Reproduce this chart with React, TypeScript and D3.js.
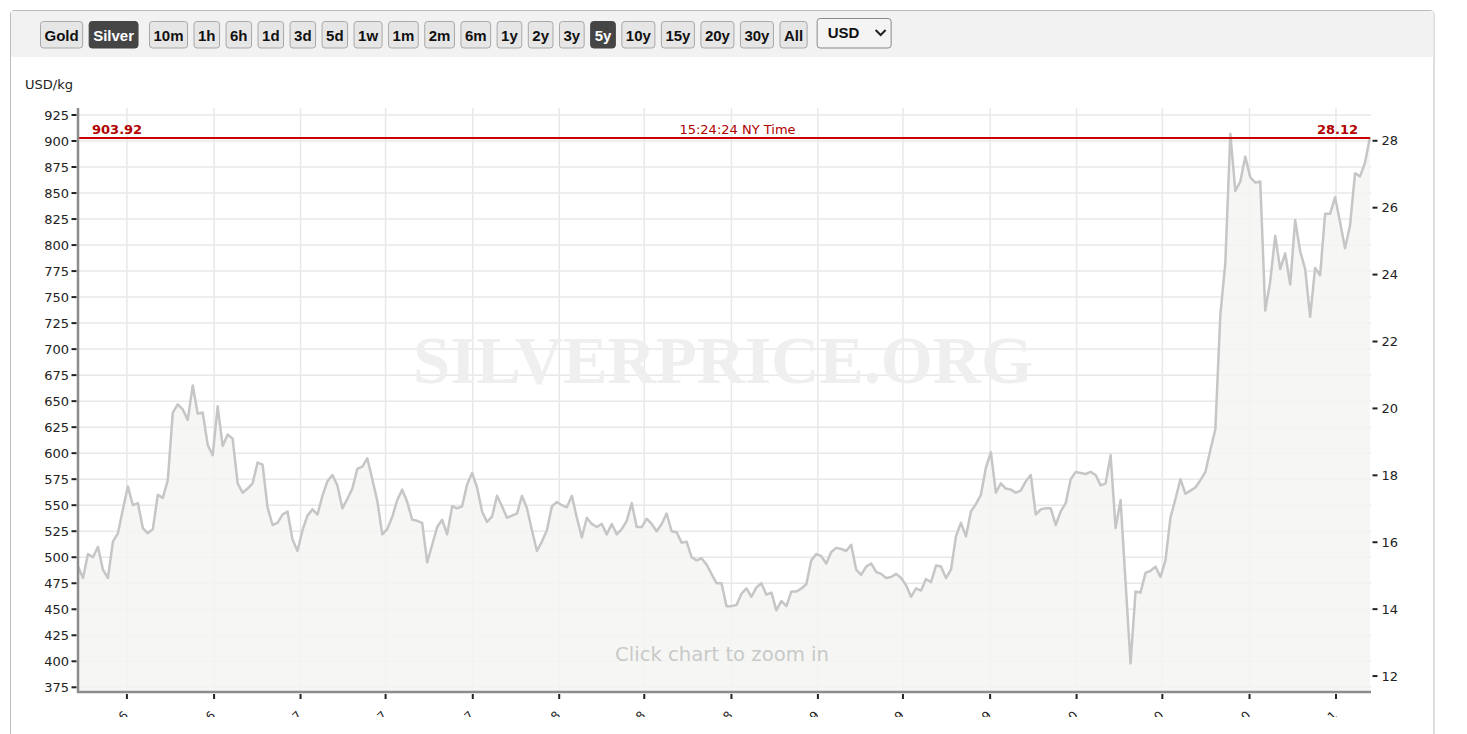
import React from "react";
import * as d3 from "d3";

// ---------- DATA ----------
const buttonLabels = ["Gold", "Silver", "10m", "1h", "6h", "1d", "3d", "5d", "1w", "1m", "2m", "6m", "1y", "2y", "3y", "5y", "10y", "15y", "20y", "30y", "All"];
const activeButtons = ["Silver", "5y"];
const currencyLabel = "USD";
const unitLabel = "USD/kg";

const leftTicks = [375, 400, 425, 450, 475, 500, 525, 550, 575, 600, 625, 650, 675, 700, 725, 750, 775, 800, 825, 850, 875, 900, 925];
const rightTicks = [12, 14, 16, 18, 20, 22, 24, 26, 28];
const xTickDates = ["2016-05-01", "2016-09-01", "2017-01-01", "2017-05-01", "2017-09-01", "2018-01-01", "2018-05-01", "2018-09-01", "2019-01-01", "2019-05-01", "2019-09-01", "2020-01-01", "2020-05-01", "2020-09-01", "2021-01-01"];

const firstDate = "2016-02-22";
const lastDate = "2021-02-18";

// Silver price, USD per kg, weekly-ish points
const silverUsdPerKg = [
  491, 480, 503, 500, 510, 488, 480, 515, 523, 546,
  568, 550, 552, 528, 523, 527, 560, 557, 574, 639,
  647, 642, 632, 665, 638, 639, 608, 598, 645, 607,
  618, 614, 571, 562, 566, 571, 591, 589, 548, 531,
  533, 541, 544, 517, 506, 526, 540, 546, 541, 559,
  573, 579, 569, 547, 556, 566, 585, 587, 595, 575,
  554, 522, 527, 539, 555, 565, 553, 536, 535, 533,
  495, 512, 529, 536, 522, 549, 547, 549, 570, 581,
  567, 544, 534, 539, 559, 549, 538, 540, 542, 559,
  547, 526, 506, 515, 526, 549, 553, 550, 548, 559,
  538, 519, 538, 532, 529, 532, 522, 532, 522, 527,
  535, 552, 529, 529, 537, 532, 525, 532, 542, 525,
  524, 514, 515, 500, 497, 499, 493, 484, 475, 475,
  453, 453, 454, 465, 470, 462, 471, 475, 464, 466,
  449, 458, 453, 467, 467, 470, 474, 497, 503, 501,
  494, 505, 509, 508, 506, 512, 488, 483, 491, 494,
  486, 484, 480, 481, 484, 480, 473, 462, 470, 468,
  479, 476, 492, 491, 480, 488, 520, 533, 520, 544,
  551, 560, 586, 601, 562, 571, 566, 565, 562, 564,
  573, 579, 541, 546, 547, 547, 531, 544, 552, 575,
  582, 581, 580, 582, 579, 569, 571, 598, 528, 555,
  476, 398, 467, 466, 485, 487, 491, 481, 497, 538,
  556, 575, 561, 564, 567, 574, 582, 603, 623, 733,
  783, 907, 852, 861, 885, 865, 860, 861, 737, 765,
  809, 777, 792, 762, 824, 794, 777, 731, 778, 771,
  830, 830, 846, 822, 797, 819, 869, 866, 879, 903.92,
];

const lastPriceKg = 903.92;
const lastPriceOz = 28.12;
const timeLabel = "15:24:24 NY Time";
const watermark = "SILVERPRICE.ORG";
const zoomHint = "Click chart to zoom in";
const OZ_PER_KG = 32.1507;

// ---------- LAYOUT ----------
const W = 1467;
const H = 734;
const plot = { left: 79, right: 1371, top: 108, bottom: 692 };
const FONT = "'DejaVu Sans', Verdana, sans-serif";
const BTN_FONT = "'Liberation Sans', Arial, sans-serif";

function measure(text: string, font: string): number {
  const c = document.createElement("canvas").getContext("2d");
  if (!c) return text.length * 9;
  c.font = font;
  return c.measureText(text).width;
}

type Pt = { date: Date; v: number };

export default function App() {
  const parse = d3.timeParse("%Y-%m-%d");
  const d0 = parse(firstDate) as Date;
  const d1 = parse(lastDate) as Date;
  const n = silverUsdPerKg.length;
  const idxToTime = d3.scaleLinear().domain([0, n - 1]).range([d0.getTime(), d1.getTime()]);
  const data: Pt[] = silverUsdPerKg.map((v, i) => ({ date: new Date(idxToTime(i)), v }));

  const x = d3.scaleTime().domain([d0, d1]).range([78, 1370]);
  const y = d3.scaleLinear().domain([375, 925]).range([687.3, 115]);

  const line = d3.line<Pt>().x((d) => x(d.date)).y((d) => y(d.v));
  const area = d3
    .area<Pt>()
    .x((d) => x(d.date))
    .y0(plot.bottom)
    .y1((d) => y(d.v));

  const xTicks = xTickDates.map((s) => parse(s) as Date);
  const fmt = d3.timeFormat("%b '%y");

  // buttons
  const btnFont = "bold 15px " + BTN_FONT;
  let bx = 40;
  const buttons = buttonLabels.map((label) => {
    const w = measure(label, btnFont) + 8;
    const b = { label, x: bx, w };
    bx += w + 6.5;
    if (label === "Silver") bx += 5;
    return b;
  });
  const selX = bx + 3.5;
  const selW = 74;

  const redY = y(lastPriceKg) + 1;

  return (
    <svg
      width={W}
      height={H}
      style={{ position: "absolute", left: 0, top: 0, display: "block", background: "#fff" }}
    >
      <defs>
        <clipPath id="labelClip">
          <rect x={0} y={0} width={W} height={717} />
        </clipPath>
      </defs>

      {/* outer container */}
      <path
        d={`M10.5,${H + 5} L10.5,14 Q10.5,10.5 14,10.5 L1430.5,10.5 Q1434,10.5 1434,14 L1434,${H + 5}`}
        fill="none"
        stroke="#bdbdbd"
        strokeWidth={1}
      />
      <rect x={11} y={11} width={1422.5} height={46} fill="#f2f2f2" />

      {/* toolbar */}
      {buttons.map((b) => {
        const active = activeButtons.includes(b.label);
        return (
          <g key={b.label}>
            <rect
              x={b.x + 0.5}
              y={21.5}
              width={b.w}
              height={26.5}
              rx={3}
              fill={active ? "#454545" : "#e6e6e6"}
              stroke={active ? "#454545" : "#a8a8a8"}
              strokeWidth={1}
            />
            <text
              x={b.x + 0.5 + b.w / 2}
              y={40.5}
              textAnchor="middle"
              fontFamily={BTN_FONT}
              fontWeight="bold"
              fontSize={15}
              fill={active ? "#ffffff" : "#111"}
            >
              {b.label}
            </text>
          </g>
        );
      })}
      <rect x={selX + 0.5} y={18.5} width={selW} height={29.5} rx={3} fill="#f4f4f4" stroke="#8a8a8a" strokeWidth={1} />
      <text x={selX + 11} y={38} fontFamily={BTN_FONT} fontWeight="bold" fontSize={15} fill="#111">
        {currencyLabel}
      </text>
      <path
        d={`M${selX + 59},${30} L${selX + 64},${35} L${selX + 69},${30}`}
        fill="none"
        stroke="#222"
        strokeWidth={2}
      />

      {/* unit label */}
      <text x={25} y={88.5} fontFamily={FONT} fontSize={13} fill="#222">
        {unitLabel}
      </text>

      {/* horizontal grid */}
      {leftTicks.map((t) => (
        <line key={"hg" + t} x1={plot.left} x2={plot.right} y1={y(t)} y2={y(t)} stroke="#e8e8e8" strokeWidth={1.5} />
      ))}
      {/* vertical grid */}
      {xTicks.map((t, i) => (
        <line key={"vg" + i} x1={x(t)} x2={x(t)} y1={plot.top} y2={plot.bottom} stroke="#e8e8e8" strokeWidth={1.5} />
      ))}

      {/* watermark */}
      <text
        x={723}
        y={383}
        textAnchor="middle"
        fontFamily="'Liberation Serif', 'Times New Roman', serif"
        fontWeight="bold"
        fontSize={68}
        textLength={620}
        lengthAdjust="spacingAndGlyphs"
        fill="#efefef"
      >
        {watermark}
      </text>

      {/* series */}
      <path d={area(data) || ""} fill="#f5f5f3" fillOpacity={0.85} />
      <path d={line(data) || ""} fill="none" stroke="#c6c6c6" strokeWidth={2.5} strokeLinejoin="round" />

      {/* zoom hint */}
      <text
        x={722}
        y={661}
        textAnchor="middle"
        fontFamily={FONT}
        fontSize={19.5}
        textLength={214}
        lengthAdjust="spacingAndGlyphs"
        fill="#c8cac8"
      >
        {zoomHint}
      </text>

      {/* current price line */}
      <line x1={plot.left} x2={1370} y1={redY} y2={redY} stroke="#cc0000" strokeWidth={2} />
      <text x={92} y={133.5} fontFamily={FONT} fontSize={13} fontWeight="bold" fill="#b00000">
        {lastPriceKg.toFixed(2)}
      </text>
      <text x={1358} y={133.5} textAnchor="end" fontFamily={FONT} fontSize={13} fontWeight="bold" fill="#b00000">
        {lastPriceOz.toFixed(2)}
      </text>
      <text x={737.5} y={133.5} textAnchor="middle" fontFamily={FONT} fontSize={13} fill="#b00000">
        {timeLabel}
      </text>

      {/* left axis */}
      <line x1={78} x2={78} y1={plot.top} y2={plot.bottom + 1} stroke="#8c8c8c" strokeWidth={2.5} />
      {leftTicks.map((t) => (
        <g key={"lt" + t}>
          <line x1={71.5} x2={76.5} y1={y(t)} y2={y(t)} stroke="#222" strokeWidth={2} />
          <text x={69} y={y(t)} dy="0.36em" textAnchor="end" fontFamily={FONT} fontSize={13} fill="#222">
            {t}
          </text>
        </g>
      ))}

      {/* right axis */}
      {rightTicks.map((t) => {
        const yy = y(t * OZ_PER_KG);
        return (
          <g key={"rt" + t}>
            <line x1={1372.5} x2={1377.5} y1={yy} y2={yy} stroke="#222" strokeWidth={2} />
            <text x={1381.5} y={yy} dy="0.36em" fontFamily={FONT} fontSize={13} fill="#222">
              {t}
            </text>
          </g>
        );
      })}

      {/* bottom axis */}
      <line x1={77} x2={plot.right} y1={plot.bottom} y2={plot.bottom} stroke="#8c8c8c" strokeWidth={2.5} />
      <g clipPath="url(#labelClip)">
        {xTicks.map((t, i) => {
          const tx = x(t);
          return (
            <g key={"xt" + i}>
              <line x1={tx} x2={tx} y1={694} y2={699} stroke="#222" strokeWidth={2} />
              <text
                transform={`translate(${tx + 2},716) rotate(-45)`}
                textAnchor="end"
                fontFamily={FONT}
                fontSize={12}
                fill="#222"
              >
                {fmt(t)}
              </text>
            </g>
          );
        })}
      </g>
    </svg>
  );
}
